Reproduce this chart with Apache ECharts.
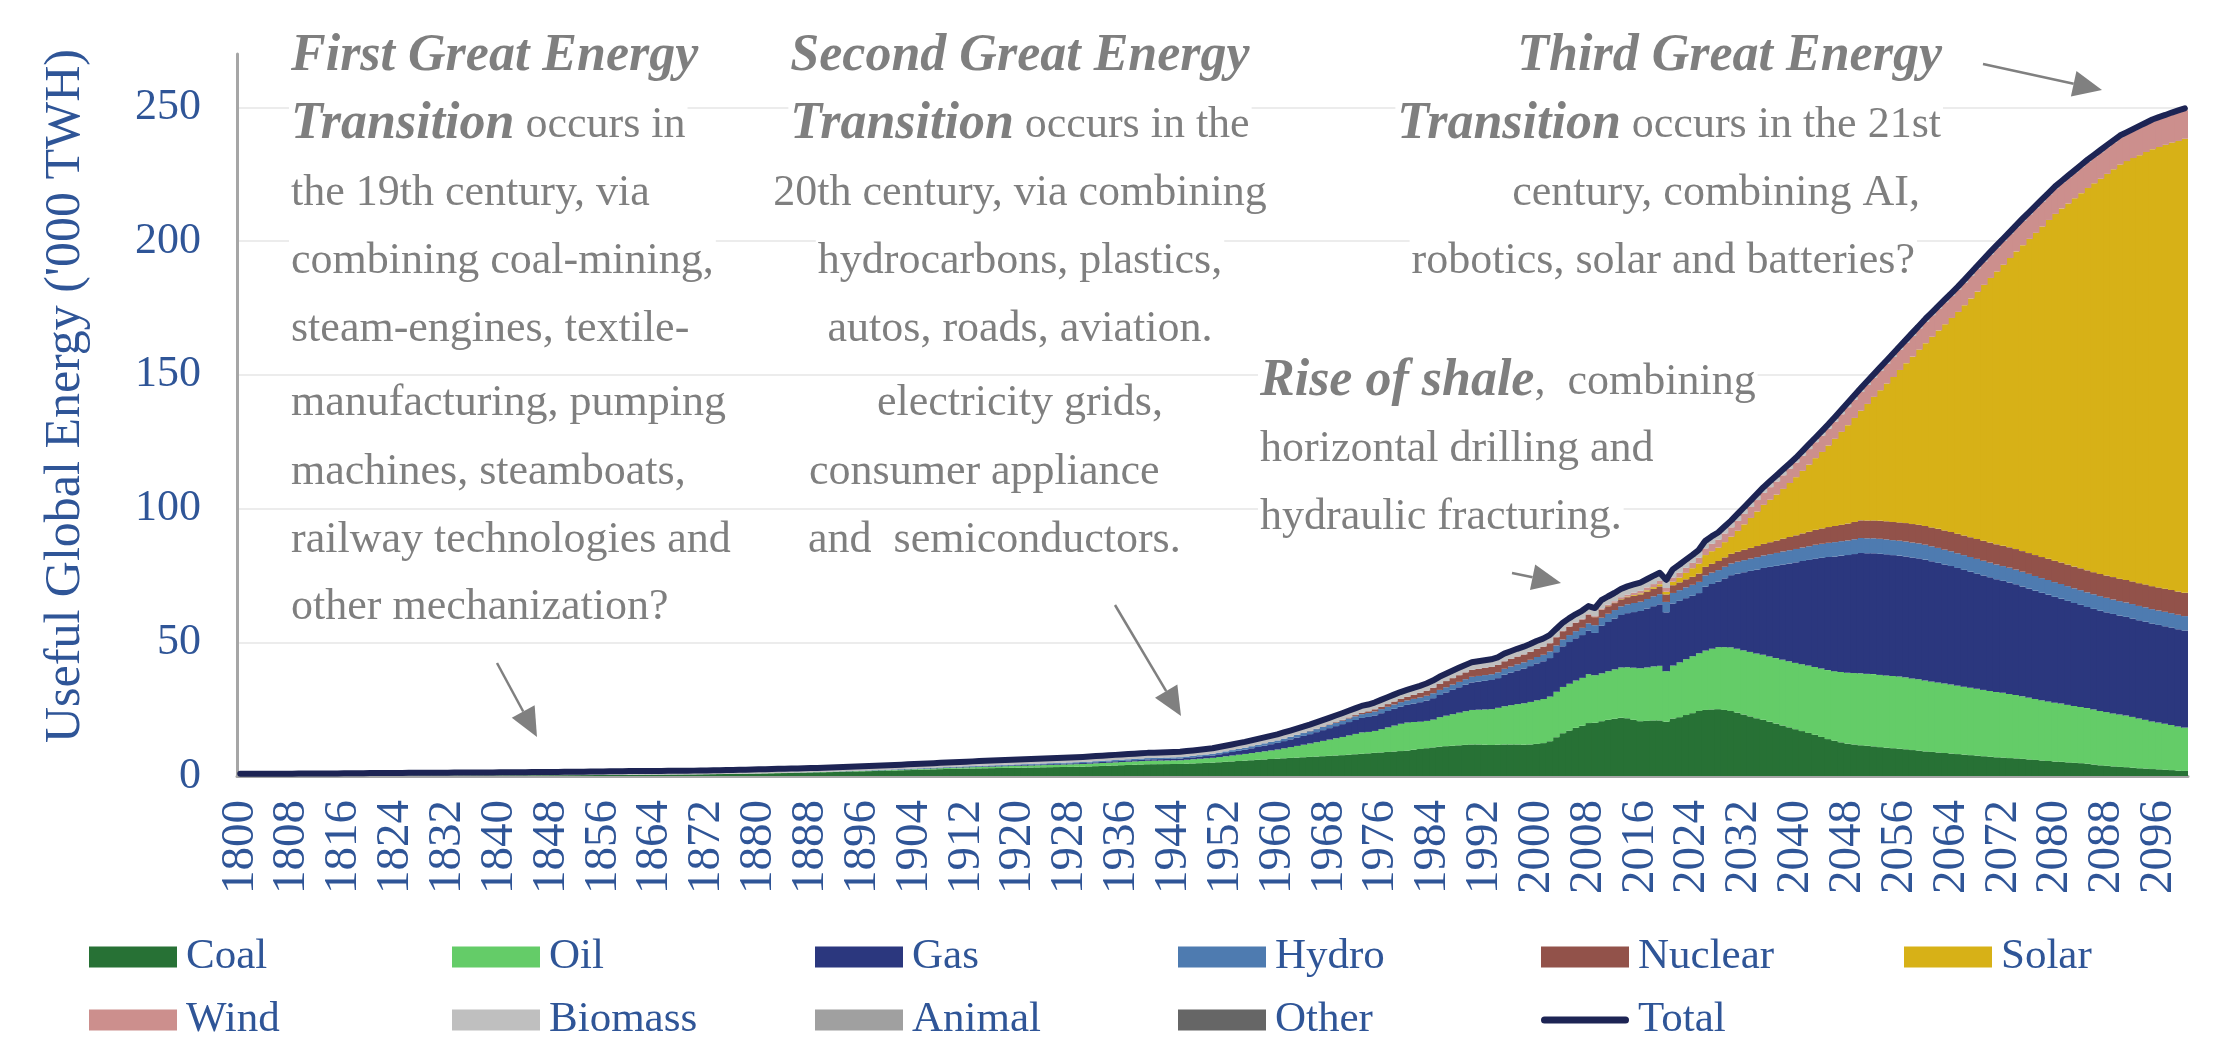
<!DOCTYPE html>
<html>
<head>
<meta charset="utf-8">
<title>Useful Global Energy</title>
<script src="https://cdn.jsdelivr.net/npm/echarts@6/dist/echarts.min.js"></script>
<style>
  html, body { margin: 0; padding: 0; background: #fff; }
  #chart { width: 2232px; height: 1053px; }
</style>
</head>
<body>
<div id="chart"></div>
<script>
// categories: one column per year
const years = []
for (let y = 1800; y <= 2100; y++) years.push(String(y))

// '000 TWH, one row per decade
const coal = [
  0.1,0.1,0.1,0.1,0.1,0.1,0.1,0.1,0.1,0.1,
  0.1,0.1,0.12,0.12,0.13,0.13,0.14,0.14,0.15,0.15,
  0.15,0.16,0.16,0.17,0.17,0.18,0.18,0.19,0.19,0.2,
  0.2,0.2,0.21,0.21,0.22,0.22,0.23,0.23,0.24,0.24,
  0.25,0.25,0.26,0.26,0.27,0.27,0.28,0.28,0.29,0.29,
  0.3,0.31,0.32,0.34,0.35,0.37,0.38,0.4,0.41,0.43,
  0.45,0.46,0.48,0.5,0.51,0.53,0.54,0.56,0.57,0.59,
  0.6,0.63,0.66,0.69,0.72,0.75,0.78,0.81,0.84,0.87,
  0.9,0.95,1,1.05,1.1,1.15,1.2,1.25,1.3,1.35,
  1.4,1.46,1.52,1.58,1.64,1.7,1.76,1.82,1.88,1.94,
  2,2.07,2.14,2.21,2.28,2.35,2.42,2.49,2.56,2.63,
  2.7,2.74,2.78,2.82,2.86,2.9,2.94,2.98,3.02,3.06,
  3.1,3.14,3.18,3.22,3.26,3.3,3.34,3.38,3.42,3.46,
  3.5,3.59,3.68,3.77,3.86,3.95,4.04,4.13,4.22,4.31,
  4.4,4.42,4.44,4.46,4.48,4.5,4.6,4.7,4.8,4.9,
  5,5.15,5.3,5.45,5.6,5.75,5.9,6.05,6.2,6.35,
  6.5,6.63,6.76,6.89,7.02,7.15,7.28,7.41,7.54,7.67,
  7.8,7.97,8.14,8.31,8.48,8.65,8.82,8.99,9.16,9.33,
  9.5,9.8,10.1,10.4,10.7,11,11.16,11.32,11.48,11.64,
  11.8,11.8,11.7,11.6,11.7,11.8,11.8,11.8,11.7,11.8,
  12,12.3,13,14.5,16,17,18,18.8,19.8,19.9,
  20.5,21,21.4,21.8,21.6,21,20.5,20.6,20.8,20.8,
  20.3,21.5,22,22.8,23.5,24.3,24.7,24.9,25,24.7,
  24.3,23.7,23,22.3,21.6,21,20.3,19.6,18.9,18.2,
  17.5,16.8,16.1,15.4,14.6,13.8,13.2,12.6,12.1,11.8,
  11.5,11.3,11.1,10.8,10.6,10.4,10.2,10,9.7,9.5,
  9.2,9,8.8,8.6,8.4,8.2,8,7.8,7.6,7.4,
  7.2,7,6.9,6.7,6.6,6.4,6.2,6,5.8,5.6,
  5.4,5.3,5.1,4.9,4.8,4.6,4.3,4,3.8,3.6,
  3.4,3.3,3.1,2.9,2.8,2.6,2.5,2.3,2.2,2,
  1.9
]
const oil = [
  0,0,0,0,0,0,0,0,0,0,
  0,0,0,0,0,0,0,0,0,0,
  0,0,0,0,0,0,0,0,0,0,
  0,0,0,0,0,0,0,0,0,0,
  0,0,0,0,0,0,0,0,0,0,
  0,0,0,0,0,0,0,0,0,0,
  0,0,0,0,0,0,0,0,0,0,
  0,0,0.01,0.01,0.02,0.02,0.03,0.03,0.04,0.04,
  0.05,0.05,0.06,0.06,0.07,0.07,0.08,0.08,0.09,0.09,
  0.1,0.11,0.12,0.13,0.14,0.15,0.16,0.17,0.18,0.19,
  0.2,0.22,0.24,0.26,0.28,0.3,0.32,0.34,0.36,0.38,
  0.4,0.43,0.46,0.49,0.52,0.55,0.58,0.61,0.64,0.67,
  0.7,0.73,0.76,0.79,0.82,0.85,0.88,0.91,0.94,0.97,
  1,1.03,1.06,1.09,1.12,1.15,1.18,1.21,1.24,1.27,
  1.3,1.32,1.34,1.36,1.38,1.4,1.48,1.56,1.64,1.72,
  1.8,1.94,2.08,2.22,2.36,2.5,2.68,2.86,3.04,3.22,
  3.4,3.72,4.04,4.36,4.68,5,5.36,5.72,6.08,6.44,
  6.8,7.2,7.6,8,8,8.2,8.7,9.2,9.7,10.2,
  10.5,10.4,10.2,10.2,10.4,11,11.4,11.8,12.2,12.6,
  12.9,13,13.2,13.4,13.8,14.3,14.7,15.1,15.5,15.9,
  16.3,16.5,16.7,17,17.3,17.5,17.7,17.9,18.3,17.8,
  17.9,18.2,18.5,18.8,19.1,19.5,19.8,20,20.2,20.4,
  18.9,19.8,20.5,20.9,21.3,21.6,22.2,22.7,23.2,23.5,
  23.8,23.9,24,24.1,24.2,24.3,24.4,24.5,24.6,24.7,
  24.8,25,25.2,25.4,25.6,25.8,26,26.3,26.5,26.7,
  26.9,26.9,27,27,27,27,27,26.9,26.8,26.7,
  26.5,26.3,26.2,26,25.8,25.6,25.4,25.2,25,24.8,
  24.6,24.4,24.2,24,23.7,23.4,23.1,22.8,22.5,22.3,
  22,21.8,21.5,21.3,21,20.8,20.6,20.3,20.1,19.8,
  19.6,19.3,19,18.6,18.2,17.8,17.5,17.2,16.9,16.5,
  16.2
]
const gas = [
  0,0,0,0,0,0,0,0,0,0,
  0,0,0,0,0,0,0,0,0,0,
  0,0,0,0,0,0,0,0,0,0,
  0,0,0,0,0,0,0,0,0,0,
  0,0,0,0,0,0,0,0,0,0,
  0,0,0,0,0,0,0,0,0,0,
  0,0,0,0,0,0,0,0,0,0,
  0,0,0,0,0,0,0,0,0,0,
  0,0,0.01,0.01,0.02,0.02,0.03,0.03,0.04,0.04,
  0.05,0.05,0.06,0.06,0.07,0.07,0.08,0.08,0.09,0.09,
  0.1,0.1,0.11,0.11,0.12,0.12,0.13,0.13,0.14,0.14,
  0.15,0.16,0.17,0.18,0.19,0.2,0.21,0.22,0.23,0.24,
  0.25,0.26,0.27,0.28,0.29,0.3,0.31,0.32,0.33,0.34,
  0.35,0.36,0.38,0.39,0.41,0.42,0.44,0.45,0.47,0.48,
  0.5,0.52,0.54,0.56,0.58,0.6,0.66,0.72,0.78,0.84,
  0.9,1.04,1.18,1.32,1.46,1.6,1.78,1.96,2.14,2.32,
  2.5,2.7,2.9,3.1,3.3,3.5,3.76,4.02,4.28,4.54,
  4.8,5,5.2,5.4,5.6,5.8,5.96,6.12,6.28,6.44,
  6.6,6.9,7.3,7.6,8,8.3,8.7,9.1,9.5,9.9,
  10.3,10.5,10.7,10.9,11.1,11.8,12.2,12.6,13,13.4,
  13.8,14.1,14.4,14.8,15.2,15.6,15.8,16,16.2,15.8,
  17.8,18.4,19,19.6,20.2,20.8,21.4,22,22.5,23,
  22,23.2,23,22.8,22.6,22.5,23.9,24.2,24.5,25.7,
  27,28.1,29.2,30.3,31.4,32.5,33.5,34.5,35.6,36.6,
  37.6,38.6,39.5,40.5,41.4,42.3,42.9,43.5,44,44.5,
  45,45.1,45.2,45.3,45.3,45.2,45.2,45.2,45.2,45.2,
  45.2,45,44.7,44.5,44.3,44,43.7,43.4,43.1,42.8,
  42.5,42.2,41.9,41.7,41.4,41.1,40.8,40.5,40.2,39.9,
  39.6,39.2,38.9,38.5,38.2,37.8,37.6,37.5,37.3,37.2,
  37,36.9,36.8,36.7,36.7,36.6,36.5,36.5,36.4,36.4,
  36.3
]
const hydro = [
  0,0,0,0,0,0,0,0,0,0,
  0,0,0,0,0,0,0,0,0,0,
  0,0,0,0,0,0,0,0,0,0,
  0,0,0,0,0,0,0,0,0,0,
  0,0,0,0,0,0,0,0,0,0,
  0,0,0,0,0,0,0,0,0,0,
  0,0,0,0,0,0,0,0,0,0,
  0,0,0,0,0,0,0,0,0,0,
  0,0,0,0,0,0,0,0,0,0,
  0,0,0.01,0.02,0.03,0.04,0.05,0.06,0.07,0.08,
  0.1,0.11,0.12,0.13,0.14,0.15,0.16,0.17,0.18,0.19,
  0.2,0.21,0.22,0.23,0.24,0.25,0.26,0.27,0.28,0.29,
  0.3,0.31,0.32,0.33,0.34,0.35,0.36,0.37,0.38,0.39,
  0.4,0.41,0.42,0.43,0.44,0.45,0.46,0.47,0.48,0.49,
  0.5,0.51,0.52,0.53,0.54,0.55,0.56,0.57,0.58,0.59,
  0.6,0.63,0.66,0.69,0.72,0.75,0.78,0.81,0.84,0.87,
  0.9,0.94,0.98,1.02,1.06,1.1,1.14,1.18,1.22,1.26,
  1.3,1.34,1.38,1.42,1.46,1.5,1.54,1.58,1.62,1.66,
  1.7,1.74,1.78,1.82,1.86,1.9,1.94,1.98,2.02,2.06,
  2.1,2.12,2.14,2.16,2.18,2.2,2.24,2.28,2.32,2.36,
  2.4,2.44,2.48,2.52,2.56,2.6,2.66,2.72,2.8,2.9,
  3,3.08,3.16,3.24,3.32,3.4,3.5,3.6,3.7,3.8,
  3.9,3.95,4,4.05,4.1,4.2,4.22,4.26,4.3,4.35,
  4.4,4.46,4.52,4.58,4.64,4.7,4.76,4.82,4.88,4.94,
  5,5.06,5.12,5.18,5.24,5.3,5.36,5.42,5.48,5.54,
  5.6,5.6,5.6,5.6,5.6,5.6,5.6,5.6,5.6,5.6,
  5.6,5.6,5.6,5.55,5.55,5.5,5.5,5.5,5.5,5.5,
  5.5,5.5,5.5,5.5,5.5,5.5,5.5,5.5,5.5,5.5,
  5.5,5.5,5.5,5.5,5.5,5.5,5.48,5.46,5.44,5.42,
  5.4,5.4,5.4,5.4,5.4,5.4,5.4,5.4,5.4,5.4,
  5.4
]
const nuclear = [
  0,0,0,0,0,0,0,0,0,0,
  0,0,0,0,0,0,0,0,0,0,
  0,0,0,0,0,0,0,0,0,0,
  0,0,0,0,0,0,0,0,0,0,
  0,0,0,0,0,0,0,0,0,0,
  0,0,0,0,0,0,0,0,0,0,
  0,0,0,0,0,0,0,0,0,0,
  0,0,0,0,0,0,0,0,0,0,
  0,0,0,0,0,0,0,0,0,0,
  0,0,0,0,0,0,0,0,0,0,
  0,0,0,0,0,0,0,0,0,0,
  0,0,0,0,0,0,0,0,0,0,
  0,0,0,0,0,0,0,0,0,0,
  0,0,0,0,0,0,0,0,0,0,
  0,0,0,0,0,0,0,0,0,0,
  0,0,0,0,0,0,0,0,0,0,
  0,0,0.01,0.02,0.04,0.1,0.13,0.16,0.2,0.25,
  0.3,0.38,0.46,0.56,0.66,0.8,0.9,1,1.1,1.2,
  1.3,1.5,1.7,1.9,2.05,2.2,2.3,2.4,2.5,2.55,
  2.6,2.64,2.68,2.72,2.76,2.8,2.84,2.88,2.92,2.96,
  3,3.02,3.04,3.06,3.08,3.1,3.1,3.1,3.1,3,
  3,2.8,2.6,2.6,2.65,2.7,2.72,2.75,2.8,2.9,
  2.8,2.9,2.9,3,3,3.1,3.2,3.3,3.4,3.5,
  3.6,3.74,3.88,4.02,4.16,4.3,4.46,4.62,4.78,4.94,
  5.1,5.26,5.42,5.58,5.74,5.9,6.04,6.18,6.32,6.46,
  6.6,6.64,6.68,6.72,6.76,6.8,6.84,6.88,6.92,6.96,
  7,7.06,7.12,7.18,7.24,7.3,7.34,7.38,7.42,7.46,
  7.5,7.54,7.58,7.62,7.66,7.7,7.76,7.82,7.88,7.94,
  8,8.04,8.08,8.12,8.16,8.2,8.24,8.28,8.32,8.36,
  8.4,8.44,8.48,8.52,8.56,8.6,8.62,8.64,8.66,8.68,
  8.7
]
const solar = [
  0,0,0,0,0,0,0,0,0,0,
  0,0,0,0,0,0,0,0,0,0,
  0,0,0,0,0,0,0,0,0,0,
  0,0,0,0,0,0,0,0,0,0,
  0,0,0,0,0,0,0,0,0,0,
  0,0,0,0,0,0,0,0,0,0,
  0,0,0,0,0,0,0,0,0,0,
  0,0,0,0,0,0,0,0,0,0,
  0,0,0,0,0,0,0,0,0,0,
  0,0,0,0,0,0,0,0,0,0,
  0,0,0,0,0,0,0,0,0,0,
  0,0,0,0,0,0,0,0,0,0,
  0,0,0,0,0,0,0,0,0,0,
  0,0,0,0,0,0,0,0,0,0,
  0,0,0,0,0,0,0,0,0,0,
  0,0,0,0,0,0,0,0,0,0,
  0,0,0,0,0,0,0,0,0,0,
  0,0,0,0,0,0,0,0,0,0,
  0,0,0,0,0,0,0,0,0,0,
  0,0,0,0,0,0,0,0,0,0,
  0,0,0,0,0,0,0,0.01,0.02,0.03,
  0.05,0.08,0.12,0.16,0.22,0.3,0.4,0.5,0.62,0.8,
  1,1.3,1.8,2.4,3.2,3.75,4.4,4.7,5,5.7,
  6.4,7.8,9.5,11.2,12.9,14.6,15.9,17.2,18.6,20.2,
  21.75,23.4,25.1,26.8,28.6,30.5,32.6,34.7,36.8,38.9,
  41,43.6,46.2,48.8,51.5,54.2,57,59.8,62.6,65.5,
  68.35,71.3,74.2,77.1,80,82.95,86.1,89.3,92.5,95.7,
  98.95,102,105.1,108.2,111.3,114.4,117.5,120.5,123.6,126.7,
  129.7,132.4,135,137.7,140.3,143,145.4,147.8,150.2,152.5,
  154.85,156.6,158.3,160,161.7,163.4,164.7,166,167.3,168.5,
  169.8
]
const wind = [
  0,0,0,0,0,0,0,0,0,0,
  0,0,0,0,0,0,0,0,0,0,
  0,0,0,0,0,0,0,0,0,0,
  0,0,0,0,0,0,0,0,0,0,
  0,0,0,0,0,0,0,0,0,0,
  0,0,0,0,0,0,0,0,0,0,
  0,0,0,0,0,0,0,0,0,0,
  0,0,0,0,0,0,0,0,0,0,
  0,0,0,0,0,0,0,0,0,0,
  0,0,0,0,0,0,0,0,0,0,
  0,0,0,0,0,0,0,0,0,0,
  0,0,0,0,0,0,0,0,0,0,
  0,0,0,0,0,0,0,0,0,0,
  0,0,0,0,0,0,0,0,0,0,
  0,0,0,0,0,0,0,0,0,0,
  0,0,0,0,0,0,0,0,0,0,
  0,0,0,0,0,0,0,0,0,0,
  0,0,0,0,0,0,0,0,0,0,
  0,0,0,0,0,0,0,0,0,0,
  0,0,0,0,0,0.01,0.01,0.02,0.03,0.04,
  0.05,0.06,0.08,0.1,0.12,0.15,0.19,0.24,0.3,0.35,
  0.42,0.5,0.58,0.66,0.75,0.85,0.95,1.05,1.15,1.25,
  1.4,1.6,1.8,1.9,2,2.2,2.5,2.8,3,3.25,
  3.5,3.7,3.9,4.1,4.3,4.5,4.7,4.9,5.1,5.3,
  5.5,5.66,5.82,5.98,6.14,6.3,6.44,6.58,6.72,6.86,
  7,7.1,7.2,7.3,7.4,7.5,7.6,7.7,7.8,7.9,
  8,8.08,8.16,8.24,8.32,8.4,8.48,8.56,8.64,8.72,
  8.8,8.86,8.92,8.98,9.04,9.1,9.18,9.26,9.34,9.42,
  9.5,9.56,9.62,9.68,9.74,9.8,9.86,9.92,9.98,10.04,
  10.1,10.16,10.22,10.28,10.34,10.4,10.46,10.52,10.58,10.64,
  10.7
]
const biomass = [
  0.45,0.46,0.47,0.48,0.49,0.5,0.51,0.52,0.53,0.54,
  0.55,0.56,0.57,0.58,0.59,0.6,0.61,0.62,0.63,0.64,
  0.65,0.66,0.67,0.68,0.69,0.7,0.71,0.72,0.73,0.74,
  0.75,0.76,0.76,0.77,0.77,0.78,0.78,0.79,0.79,0.8,
  0.8,0.81,0.82,0.83,0.84,0.85,0.86,0.87,0.88,0.89,
  0.9,0.91,0.92,0.93,0.94,0.95,0.96,0.97,0.98,0.99,
  1,1,1,1,1,1,1,1,1,1,
  1,1.01,1.02,1.03,1.04,1.05,1.06,1.07,1.08,1.09,
  1.1,1.1,1.1,1.1,1.1,1.1,1.1,1.1,1.1,1.1,
  1.1,1.1,1.1,1.1,1.1,1.1,1.1,1.1,1.1,1.1,
  1.1,1.11,1.12,1.13,1.14,1.15,1.16,1.17,1.18,1.19,
  1.2,1.21,1.22,1.23,1.24,1.25,1.26,1.27,1.28,1.29,
  1.3,1.3,1.31,1.31,1.32,1.32,1.33,1.33,1.34,1.34,
  1.35,1.35,1.36,1.36,1.37,1.37,1.38,1.38,1.39,1.39,
  1.4,1.41,1.42,1.43,1.44,1.45,1.46,1.47,1.48,1.49,
  1.5,1.52,1.54,1.56,1.58,1.6,1.62,1.64,1.66,1.68,
  1.7,1.72,1.74,1.76,1.78,1.8,1.82,1.84,1.86,1.88,
  1.9,1.91,1.92,1.93,1.94,1.95,1.96,1.97,1.98,1.99,
  2,2.02,2.04,2.06,2.08,2.1,2.12,2.14,2.16,2.18,
  2.2,2.21,2.22,2.23,2.24,2.25,2.26,2.27,2.28,2.29,
  2.3,2.31,2.32,2.33,2.34,2.35,2.36,2.37,2.38,2.39,
  2.4,2.4,2.4,2.4,2.4,2.4,2.4,2.4,2.4,2.4,
  2.4,2.38,2.34,2.3,2.25,2.2,2.14,2.08,2.02,1.96,
  1.9,1.82,1.74,1.66,1.58,1.5,1.44,1.38,1.32,1.26,
  1.2,1.17,1.14,1.11,1.08,1.05,1.02,0.99,0.96,0.93,
  0.9,0.88,0.86,0.84,0.82,0.8,0.78,0.76,0.74,0.72,
  0.7,0.69,0.68,0.67,0.66,0.65,0.64,0.63,0.62,0.61,
  0.6,0.59,0.58,0.57,0.56,0.55,0.54,0.53,0.52,0.51,
  0.5,0.5,0.49,0.49,0.48,0.48,0.47,0.47,0.46,0.46,
  0.45,0.45,0.44,0.44,0.43,0.43,0.42,0.42,0.41,0.41,
  0.4
]
const animal = [
  0.2,0.2,0.2,0.2,0.2,0.2,0.2,0.2,0.2,0.2,
  0.21,0.21,0.21,0.21,0.21,0.21,0.21,0.21,0.21,0.21,
  0.23,0.23,0.23,0.23,0.23,0.23,0.23,0.23,0.23,0.23,
  0.25,0.25,0.25,0.25,0.25,0.25,0.25,0.25,0.25,0.25,
  0.28,0.28,0.28,0.28,0.28,0.28,0.28,0.28,0.28,0.28,
  0.3,0.3,0.3,0.3,0.3,0.3,0.3,0.3,0.3,0.3,
  0.33,0.33,0.33,0.33,0.33,0.33,0.33,0.33,0.33,0.33,
  0.36,0.36,0.36,0.36,0.36,0.36,0.36,0.36,0.36,0.36,
  0.39,0.39,0.39,0.39,0.39,0.39,0.39,0.39,0.39,0.39,
  0.42,0.42,0.42,0.42,0.42,0.42,0.42,0.42,0.42,0.42,
  0.45,0.45,0.45,0.45,0.45,0.45,0.45,0.45,0.45,0.45,
  0.47,0.47,0.47,0.47,0.47,0.47,0.47,0.47,0.47,0.47,
  0.48,0.48,0.48,0.48,0.48,0.48,0.48,0.48,0.48,0.48,
  0.5,0.5,0.5,0.5,0.5,0.5,0.5,0.5,0.5,0.5,
  0.5,0.5,0.5,0.5,0.5,0.5,0.5,0.5,0.5,0.5,
  0.5,0.5,0.5,0.5,0.5,0.5,0.5,0.5,0.5,0.5,
  0.5,0.5,0.5,0.5,0.5,0.5,0.5,0.5,0.5,0.5,
  0.48,0.48,0.48,0.48,0.48,0.48,0.48,0.48,0.48,0.48,
  0.45,0.45,0.45,0.45,0.45,0.45,0.45,0.45,0.45,0.45,
  0.42,0.42,0.42,0.42,0.42,0.42,0.42,0.42,0.42,0.42,
  0.4,0.4,0.4,0.4,0.4,0.4,0.4,0.4,0.4,0.4,
  0.37,0.37,0.37,0.37,0.37,0.37,0.37,0.37,0.37,0.37,
  0.35,0.35,0.35,0.35,0.35,0.35,0.35,0.35,0.35,0.35,
  0.3,0.3,0.3,0.3,0.3,0.3,0.3,0.3,0.3,0.3,
  0.25,0.25,0.25,0.25,0.25,0.25,0.25,0.25,0.25,0.25,
  0.2,0.2,0.2,0.2,0.2,0.2,0.2,0.2,0.2,0.2,
  0.2,0.2,0.2,0.2,0.2,0.2,0.2,0.2,0.2,0.2,
  0.15,0.15,0.15,0.15,0.15,0.15,0.15,0.15,0.15,0.15,
  0.1,0.1,0.1,0.1,0.1,0.1,0.1,0.1,0.1,0.1,
  0.1,0.1,0.1,0.1,0.1,0.1,0.1,0.1,0.1,0.1,
  0.1
]
const other = [
  0.05,0.05,0.05,0.05,0.05,0.05,0.05,0.05,0.05,0.05,
  0.05,0.05,0.05,0.05,0.05,0.05,0.05,0.05,0.05,0.05,
  0.05,0.05,0.05,0.05,0.05,0.05,0.05,0.05,0.05,0.05,
  0.05,0.05,0.05,0.05,0.05,0.05,0.05,0.05,0.05,0.05,
  0.05,0.05,0.05,0.05,0.05,0.05,0.05,0.05,0.05,0.05,
  0.05,0.05,0.05,0.05,0.05,0.05,0.05,0.05,0.05,0.05,
  0.05,0.05,0.05,0.05,0.05,0.05,0.05,0.05,0.05,0.05,
  0.05,0.05,0.05,0.05,0.05,0.05,0.05,0.05,0.05,0.05,
  0.05,0.05,0.05,0.05,0.05,0.05,0.05,0.05,0.05,0.05,
  0.05,0.05,0.05,0.05,0.05,0.05,0.05,0.05,0.05,0.05,
  0.05,0.05,0.05,0.05,0.05,0.05,0.05,0.05,0.05,0.05,
  0.05,0.05,0.05,0.05,0.05,0.05,0.05,0.05,0.05,0.05,
  0.05,0.05,0.05,0.05,0.05,0.05,0.05,0.05,0.05,0.05,
  0.05,0.05,0.05,0.05,0.05,0.05,0.05,0.05,0.05,0.05,
  0.05,0.05,0.05,0.05,0.05,0.05,0.05,0.05,0.05,0.05,
  0.06,0.06,0.06,0.06,0.06,0.06,0.06,0.06,0.06,0.06,
  0.08,0.08,0.08,0.08,0.08,0.08,0.08,0.08,0.08,0.08,
  0.1,0.1,0.1,0.1,0.1,0.1,0.1,0.1,0.1,0.1,
  0.15,0.15,0.15,0.15,0.15,0.15,0.15,0.15,0.15,0.15,
  0.2,0.2,0.2,0.2,0.2,0.2,0.2,0.2,0.2,0.2,
  0.25,0.25,0.25,0.25,0.25,0.25,0.25,0.25,0.25,0.25,
  0.3,0.3,0.3,0.3,0.3,0.3,0.3,0.3,0.3,0.3,
  0.3,0.3,0.3,0.3,0.3,0.3,0.3,0.3,0.3,0.3,
  0.3,0.3,0.3,0.3,0.3,0.3,0.3,0.3,0.3,0.3,
  0.3,0.3,0.3,0.3,0.3,0.3,0.3,0.3,0.3,0.3,
  0.28,0.28,0.28,0.28,0.28,0.28,0.28,0.28,0.28,0.28,
  0.25,0.25,0.25,0.25,0.25,0.25,0.25,0.25,0.25,0.25,
  0.2,0.2,0.2,0.2,0.2,0.2,0.2,0.2,0.2,0.2,
  0.2,0.2,0.2,0.2,0.2,0.2,0.2,0.2,0.2,0.2,
  0.2,0.2,0.2,0.2,0.2,0.2,0.2,0.2,0.2,0.2,
  0.2
]
// the Total line
const total = [
  0.8,0.81,0.82,0.83,0.84,0.85,0.86,0.87,0.88,0.89,
  0.91,0.92,0.94,0.95,0.97,0.98,1,1.01,1.03,1.04,
  1.08,1.1,1.11,1.13,1.14,1.16,1.17,1.19,1.2,1.22,
  1.25,1.26,1.26,1.28,1.28,1.3,1.3,1.32,1.32,1.34,
  1.38,1.39,1.41,1.42,1.44,1.45,1.47,1.48,1.5,1.51,
  1.55,1.57,1.6,1.63,1.65,1.68,1.7,1.73,1.75,1.78,
  1.83,1.84,1.86,1.88,1.89,1.91,1.92,1.94,1.95,1.97,
  2.01,2.06,2.1,2.15,2.19,2.24,2.28,2.33,2.37,2.42,
  2.49,2.55,2.61,2.67,2.73,2.79,2.85,2.91,2.97,3.03,
  3.12,3.2,3.3,3.38,3.47,3.55,3.64,3.72,3.81,3.89,
  4,4.12,4.23,4.35,4.46,4.58,4.69,4.81,4.92,5.04,
  5.17,5.27,5.37,5.47,5.57,5.67,5.77,5.87,5.97,6.07,
  6.18,6.28,6.37,6.47,6.57,6.66,6.76,6.86,6.95,7.05,
  7.15,7.3,7.45,7.6,7.75,7.9,8.05,8.2,8.35,8.5,
  8.65,8.73,8.81,8.89,8.97,9.05,9.31,9.57,9.83,10.09,
  10.36,10.84,11.32,11.8,12.28,12.76,13.32,13.88,14.44,15,
  15.58,16.29,17.01,17.73,18.46,19.23,20.07,20.91,21.76,22.62,
  23.48,24.38,25.28,26.2,26.72,27.48,28.46,29.44,30.42,31.4,
  32.2,32.96,33.72,34.58,35.69,37.1,38.22,39.34,40.46,41.53,
  42.52,42.89,43.26,43.63,44.4,45.78,46.67,47.57,48.37,49.37,
  50.5,51.38,52.67,54.96,57.25,58.95,60.46,61.79,63.55,62.82,
  65.74,67.13,68.43,69.93,70.91,71.62,72.34,73.57,74.84,76.02,
  73.35,77.28,78.99,80.8,82.6,84.5,87.91,89.59,91.07,93.31,
  95.5,98,100.5,103,105.5,108,110.2,112.4,114.6,116.8,
  119,121.5,124,126.5,129,131.5,134.2,136.9,139.6,142.3,
  145,147.6,150.2,152.8,155.4,158,160.6,163.2,165.8,168.4,
  171,173.4,175.8,178.2,180.6,183,185.6,188.2,190.8,193.4,
  196,198.5,201,203.5,206,208.5,210.9,213.3,215.7,218.1,
  220.5,222.5,224.5,226.5,228.5,230.5,232.3,234.1,235.9,237.7,
  239.5,240.7,241.9,243.1,244.3,245.5,246.4,247.2,248.1,248.9,
  249.7
]

const FONT = 'Liberation Serif'
const AXIS_BLUE = '#2f5597'
const NOTE_GREY = '#7f7f7f'

// stacked from the bottom up, same order as the legend
const stackDefs = [
  ['Coal', coal, '#277135'],
  ['Oil', oil, '#64cc68'],
  ['Gas', gas, '#2b377e'],
  ['Hydro', hydro, '#4e7bb0'],
  ['Nuclear', nuclear, '#92524a'],
  ['Solar', solar, '#d7b117'],
  ['Wind', wind, '#cc8f8d'],
  ['Biomass', biomass, '#bfbfbf'],
  ['Animal', animal, '#a0a0a0'],
  ['Other', other, '#666666']
]

// columns a touch wider than the 6.5px band so neighbours overlap and no seams show
const barSeries = stackDefs.map(([name, data, color]) => ({
  name,
  type: 'bar',
  stack: 'energy',
  data,
  barWidth: 7.6,
  itemStyle: { color },
  emphasis: { disabled: true }
}))

// annotation text: [x, y, align, text]
const notes = [
  [289, 57, 'left', '{b|First Great Energy}'],
  [289, 125, 'left', '{b|Transition} occurs in'],
  [289, 193, 'left', 'the 19th century, via'],
  [289, 261, 'left', 'combining coal-mining,'],
  [289, 329, 'left', 'steam-engines, textile-'],
  [289, 403, 'left', 'manufacturing, pumping'],
  [289, 472, 'left', 'machines, steamboats,'],
  [289, 540, 'left', 'railway technologies and'],
  [289, 607, 'left', 'other mechanization?'],
  [1020, 57, 'center', '{b|Second Great Energy}'],
  [1020, 125, 'center', '{b|Transition} occurs in the'],
  [1020, 193, 'center', '20th century, via combining'],
  [1020, 261, 'center', 'hydrocarbons, plastics,'],
  [1020, 329, 'center', 'autos, roads, aviation.'],
  [1020, 403, 'center', 'electricity grids,'],
  [807, 472, 'left', 'consumer appliance'],
  [806, 540, 'left', 'and  semiconductors.'],
  [1944, 57, 'right', '{b|Third Great Energy}'],
  [1943, 125, 'right', '{b|Transition} occurs in the 21st'],
  [1922, 193, 'right', 'century, combining AI,'],
  [1917, 261, 'right', 'robotics, solar and batteries?'],
  [1258, 382, 'left', '{b|Rise of shale},  combining'],
  [1258, 449, 'left', 'horizontal drilling and'],
  [1258, 517, 'left', 'hydraulic fracturing.']
]

// arrows: [fromX, fromY, tipX, tipY]
const arrows = [
  [497, 663, 537, 737],
  [1115, 605, 1181, 716],
  [1512, 573, 1561, 583],
  [1983, 64, 2102, 90]
]

function arrowShapes([x1, y1, x2, y2]) {
  const a = Math.atan2(y2 - y1, x2 - x1)
  const len = 29
  const half = 13
  const bx = x2 - len * Math.cos(a)
  const by = y2 - len * Math.sin(a)
  return [
    { type: 'line', z: 10, shape: { x1, y1, x2: bx, y2: by }, style: { stroke: '#808080', lineWidth: 2.5 } },
    {
      type: 'polygon',
      z: 10,
      shape: {
        points: [
          [x2, y2],
          [bx - half * Math.sin(a), by + half * Math.cos(a)],
          [bx + half * Math.sin(a), by - half * Math.cos(a)]
        ]
      },
      style: { fill: '#808080' }
    }
  ]
}

const noteRich = {
  b: { font: `italic bold 52px "${FONT}"`, fill: NOTE_GREY }
}

const graphics = [
  {
    type: 'text',
    x: 66,
    y: 396,
    rotation: Math.PI / 2,
    style: {
      text: "Useful Global Energy ('000 TWH)",
      font: `50px "${FONT}"`,
      fill: AXIS_BLUE,
      align: 'center',
      verticalAlign: 'middle'
    }
  },
  ...notes.map(([x, y, align, text]) => ({
    type: 'text',
    x,
    y,
    z: 10,
    style: {
      text,
      rich: noteRich,
      font: `44px "${FONT}"`,
      fill: NOTE_GREY,
      align,
      verticalAlign: 'middle',
      backgroundColor: '#ffffff',
      padding: [0, 2]
    }
  })),
  ...arrows.flatMap(arrowShapes)
]

const legendBase = {
  left: 84,
  orient: 'horizontal',
  itemWidth: 88,
  itemHeight: 21,
  itemGap: 70,
  selectedMode: false,
  textStyle: { color: AXIS_BLUE, fontFamily: FONT, fontSize: 43, width: 196, lineHeight: 50, padding: [0, 0, 0, 4] }
}

const totalIcon = 'path://M3.5,0H84.5A3.5,3.5,0,0,1,84.5,7H3.5A3.5,3.5,0,0,1,3.5,0Z'

const option = {
  animation: false,
  backgroundColor: '#ffffff',
  grid: { left: 237, right: 44, top: 54, bottom: 277, containLabel: false },
  legend: [
    { ...legendBase, top: 927, data: ['Coal', 'Oil', 'Gas', 'Hydro', 'Nuclear', 'Solar'].map((name) => ({ name, icon: 'rect' })) },
    {
      ...legendBase,
      top: 990,
      data: [
        ...['Wind', 'Biomass', 'Animal', 'Other'].map((name) => ({ name, icon: 'rect' })),
        { name: 'Total', icon: totalIcon }
      ]
    }
  ],
  xAxis: {
    type: 'category',
    data: years,
    boundaryGap: true,
    axisLine: { lineStyle: { color: '#a6a6a6', width: 3 } },
    axisTick: { show: false },
    axisLabel: { interval: 7, rotate: 90, color: AXIS_BLUE, fontFamily: FONT, fontSize: 47, margin: 24 }
  },
  yAxis: {
    type: 'value',
    min: 0,
    max: 270,
    interval: 50,
    axisLine: { show: true, lineStyle: { color: '#a6a6a6', width: 3 } },
    axisTick: { show: false },
    axisLabel: { color: AXIS_BLUE, fontFamily: FONT, fontSize: 44, margin: 36, showMaxLabel: false },
    splitLine: { show: true, showMaxLine: false, lineStyle: { color: '#ececec', width: 2 } }
  },
  series: [
    ...barSeries,
    {
      name: 'Total',
      type: 'line',
      data: total,
      symbol: 'none',
      z: 5,
      lineStyle: { color: '#1d2454', width: 6, cap: 'round', join: 'round' },
      itemStyle: { color: '#1d2454' },
      emphasis: { disabled: true }
    }
  ],
  graphic: graphics
}

const chart = echarts.init(document.getElementById('chart'), null, { renderer: 'canvas' })
chart.setOption(option)
</script>
</body>
</html>
